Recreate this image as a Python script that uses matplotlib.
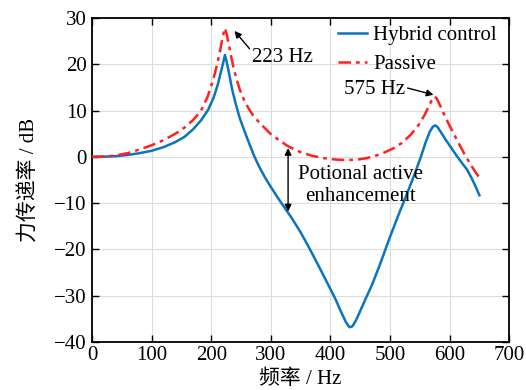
import matplotlib
matplotlib.use("Agg")
import matplotlib.pyplot as plt

plt.rcParams['font.family'] = ['Liberation Serif', 'Noto Sans CJK SC', 'DejaVu Sans']

# Data
passive_f = [0, 20, 40, 60, 80, 100, 120, 140, 155, 170, 183, 194, 203, 210, 215, 219, 223,
             226, 229, 233, 237, 242, 248, 255, 262, 270, 280, 290, 300, 315, 330, 350, 370,
             390, 410, 427, 445, 460, 475, 490, 505, 520, 535, 548, 558, 565, 570, 574, 578,
             583, 590, 597, 605, 615, 625, 635, 643, 650]
passive_db = [0, 0.05, 0.3, 0.8, 1.6, 2.5, 3.6, 5.0, 6.3, 8.0, 10.0, 13.0, 16.5, 20.0, 23.0, 25.8, 27.8,
              26.5, 24.5, 22.0, 19.5, 17.0, 14.5, 12.3, 10.6, 9.0, 7.5, 6.2, 4.9, 3.5, 2.2, 1.0, 0.2,
              -0.3, -0.6, -0.7, -0.6, -0.3, 0.2, 0.9, 1.8, 3.0, 4.8, 6.9, 9.0, 10.9, 12.2, 13.0, 12.7,
              11.4, 9.4, 7.5, 5.5, 3.0, 0.6, -1.6, -3.2, -4.5]

hybrid_f = [0, 20, 40, 60, 80, 100, 120, 140, 155, 170, 183, 195, 204, 211, 216, 220, 223,
            226, 230, 235, 241, 248, 256, 264, 272, 280, 290, 300, 310, 320, 335, 350, 365,
            380, 395, 408, 418, 426, 432, 437, 443, 450, 460, 470, 483, 500, 515, 530, 542,
            551, 560, 567, 572, 576, 580, 587, 595, 603, 612, 620, 629, 637, 644, 650]
hybrid_db = [0, 0.03, 0.15, 0.4, 0.8, 1.3, 2.1, 3.2, 4.3, 6.0, 7.9, 10.2, 12.8, 15.6, 18.2, 20.3, 22.0,
             20.5, 18.0, 14.6, 11.5, 8.3, 5.5, 2.8, 0.2, -2.0, -4.4, -6.5, -8.5, -10.4, -13.2, -16.3, -19.8,
             -23.5, -27.3, -30.6, -33.5, -35.7, -36.8, -36.6, -35.3, -33.3, -30.4, -27.6, -23.3, -17.3, -12.3, -7.5, -3.5,
             -0.3, 3.2, 5.5, 6.5, 6.8, 6.4, 5.0, 3.4, 1.9, 0.2, -1.2, -2.7, -4.6, -6.5, -8.3]

xticks = [0, 100, 200, 300, 400, 500, 600, 700]
yticks = [-40, -30, -20, -10, 0, 10, 20, 30]

fig = plt.figure(figsize=(5.26, 3.9), dpi=100)
ax = fig.add_axes([0.175, 0.123, 0.793, 0.831])

ax.plot(hybrid_f, hybrid_db, color='#0b74c0', lw=1.8, label='Hybrid control', zorder=3,
        solid_joinstyle='round')
ax.plot(passive_f, passive_db, color='#ff2020', lw=1.8, ls=(0, (5, 2, 1.5, 2)), label='Passive',
        zorder=4, dash_joinstyle='round')

ax.set_xlim(0, 700)
ax.set_ylim(-40, 30)
ax.set_xticks(xticks)
ax.set_yticks(yticks)
ax.grid(True, color='#dcdcdc', lw=0.8)
ax.set_axisbelow(True)
ax.tick_params(direction='in', top=True, right=True, length=5, width=1.0, labelsize=15)
ax.tick_params(axis='y', pad=4)
ax.tick_params(axis='x', pad=3)
for s in ax.spines.values():
    s.set_linewidth(1.3)

ax.set_xlabel('频率 / Hz', fontsize=15, labelpad=3)
ax.set_ylabel('力传递率 / dB', fontsize=15, labelpad=11)

leg = ax.legend(loc='upper right', bbox_to_anchor=(0.99, 1.003), frameon=False, fontsize=15,
                handlelength=1.4, handletextpad=0.3, labelspacing=0.45, borderaxespad=0.0)

ap = dict(arrowstyle='-|>', color='black', lw=1.0, mutation_scale=10, shrinkA=0, shrinkB=0)
ax.annotate('223 Hz', xy=(239, 27.2), xytext=(269, 21.4), fontsize=15,
            va='center', ha='left', arrowprops=dict(ap, relpos=(0.0, 0.8)))
ax.annotate('575 Hz', xy=(573, 13.4), xytext=(525, 14.6), fontsize=15,
            va='center', ha='right', arrowprops=dict(ap, relpos=(1.0, 0.6)))
ax.annotate('', xy=(329, 1.9), xytext=(329, -11.8),
            arrowprops=dict(arrowstyle='<|-|>', color='black', lw=1.0, mutation_scale=10,
                            shrinkA=0, shrinkB=0))
ax.text(450, -6.2, 'Potional active\nenhancement', fontsize=15, ha='center', va='center',
        linespacing=1.15)

fig.savefig('out.png', dpi=100)
